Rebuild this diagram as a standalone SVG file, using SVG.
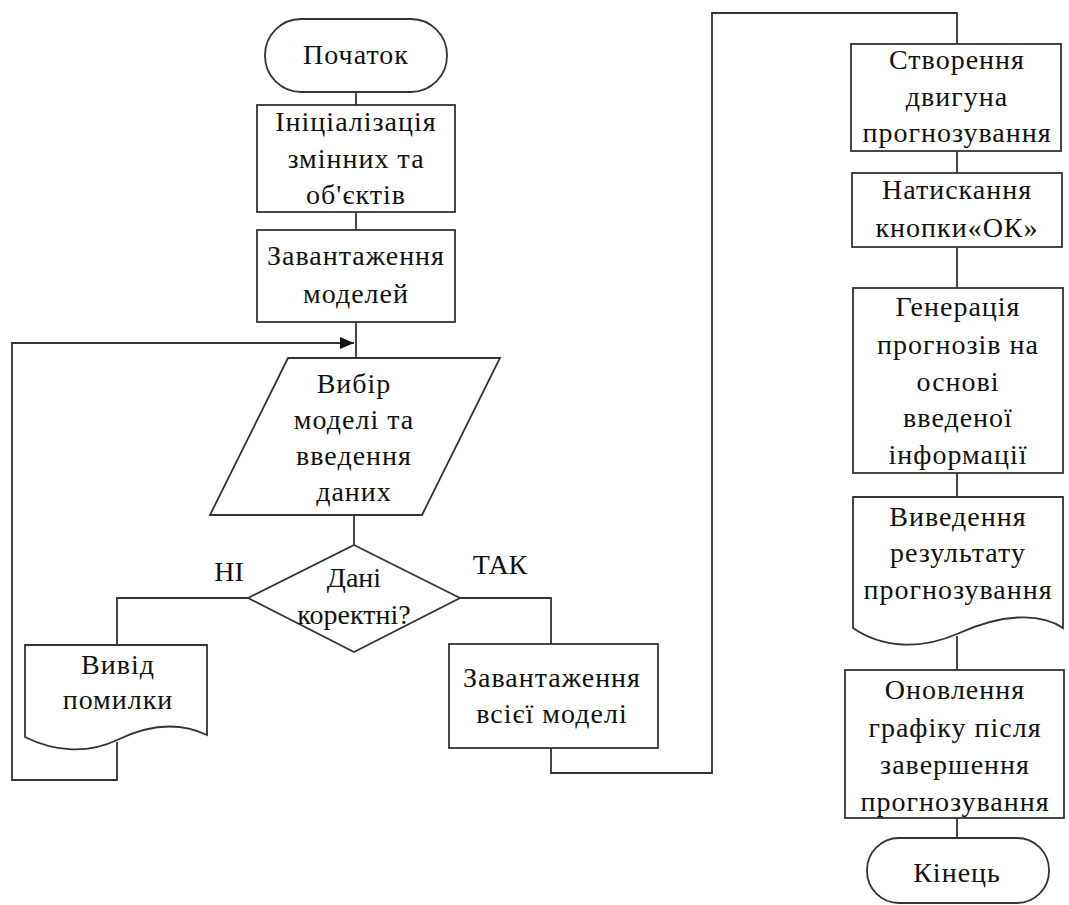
<svg xmlns="http://www.w3.org/2000/svg" width="1069" height="905" viewBox="0 0 1069 905">
  <style>
    .shape { fill: #ffffff; stroke: #333333; stroke-width: 1.8; }
    .wire { fill: none; stroke: #333333; stroke-width: 1.8; }
  </style>
  <defs>
    <marker id="arrow" viewBox="0 0 14 12" refX="14" refY="6" markerWidth="14" markerHeight="12" markerUnits="userSpaceOnUse" orient="auto">
      <path d="M0,0 L14,6 L0,12 Z" fill="#111111"/>
    </marker>
  </defs>

  <rect width="1069" height="905" fill="#ffffff"/>

  <!-- connectors -->
  <g id="connectors">
    <line class="wire" x1="356" y1="92" x2="356" y2="105"/>
    <line class="wire" x1="356" y1="212" x2="356" y2="230"/>
    <line class="wire" x1="356" y1="322" x2="356" y2="358"/>
    <line class="wire" x1="354" y1="515" x2="354" y2="545"/>
    <!-- НІ branch -->
    <polyline class="wire" points="248,598 117,598 117,645"/>
    <!-- loop back to input -->
    <polyline class="wire" points="117,742 117,780 12,780 12,343 354,343" marker-end="url(#arrow)"/>
    <!-- ТАК branch -->
    <polyline class="wire" points="460,598 551,598 551,644"/>
    <polyline class="wire" points="551,748 551,773 712,773 712,13 957,13 957,44"/>
    <line class="wire" x1="957" y1="151" x2="957" y2="173"/>
    <line class="wire" x1="957" y1="247" x2="957" y2="288"/>
    <line class="wire" x1="957" y1="473" x2="957" y2="497"/>
    <line class="wire" x1="957" y1="636" x2="957" y2="670"/>
    <line class="wire" x1="957" y1="818" x2="957" y2="838"/>
  </g>

  <g font-family="Liberation Serif, Times New Roman, serif" font-size="28" fill="#111111" text-anchor="middle" letter-spacing="1">
  <g id="start">
    <rect class="shape" x="265" y="19" width="182" height="73" rx="36" ry="36"/>
    <text x="356" y="64">Початок</text>
  </g>

  <g id="init">
    <rect class="shape" x="257" y="105" width="198" height="107"/>
    <text x="356" y="131">Ініціалізація</text>
    <text x="356" y="168">змінних та</text>
    <text x="356" y="204">об'єктів</text>
  </g>

  <g id="load-models">
    <rect class="shape" x="257" y="230" width="198" height="92"/>
    <text x="356" y="265">Завантаження</text>
    <text x="356" y="303">моделей</text>
  </g>

  <g id="input">
    <polygon class="shape" points="288,358 500,358 422,515 210,515"/>
    <text x="354" y="393">Вибір</text>
    <text x="354" y="429">моделі та</text>
    <text x="354" y="465">введення</text>
    <text x="354" y="501">даних</text>
  </g>

  <g id="check">
    <polygon class="shape" points="354,545 460,598 354,652 248,598"/>
    <text x="354" y="587" letter-spacing="0">Дані</text>
    <text x="354" y="624" letter-spacing="0">коректні?</text>
  </g>

  <g id="branch-labels" letter-spacing="0">
    <text x="229" y="581">НІ</text>
    <text x="500" y="574">ТАК</text>
  </g>

  <g id="error">
    <path class="shape" d="M25,645 H207 V735 C180,722 150,724 117,740 C88,754 55,752 25,737 Z"/>
    <text x="118" y="674">Вивід</text>
    <text x="118" y="709">помилки</text>
  </g>

  <g id="load-full">
    <rect class="shape" x="449" y="644" width="209" height="104"/>
    <text x="552" y="687">Завантаження</text>
    <text x="552" y="723">всієї моделі</text>
  </g>

  <g id="engine">
    <rect class="shape" x="851" y="44" width="210" height="107"/>
    <text x="957" y="69">Створення</text>
    <text x="957" y="106">двигуна</text>
    <text x="957" y="142">прогнозування</text>
  </g>

  <g id="press-ok">
    <rect class="shape" x="852" y="173" width="210" height="74"/>
    <text x="957" y="199">Натискання</text>
    <text x="957" y="237">кнопки«ОК»</text>
  </g>

  <g id="generate">
    <rect class="shape" x="853" y="288" width="210" height="185"/>
    <text x="958" y="316">Генерація</text>
    <text x="958" y="354">прогнозів на</text>
    <text x="958" y="391">основі</text>
    <text x="958" y="427">введеної</text>
    <text x="958" y="464">інформації</text>
  </g>

  <g id="result">
    <path class="shape" d="M853,497 H1063 V628 C1040,612 1000,614 957,634 C920,650 882,648 853,628 Z"/>
    <text x="958" y="526">Виведення</text>
    <text x="958" y="562">результату</text>
    <text x="958" y="599">прогнозування</text>
  </g>

  <g id="refresh">
    <rect class="shape" x="845" y="670" width="219" height="148"/>
    <text x="955" y="699">Оновлення</text>
    <text x="955" y="737">графіку після</text>
    <text x="955" y="774">завершення</text>
    <text x="955" y="811">прогнозування</text>
  </g>

  <g id="end">
    <rect class="shape" x="867" y="838" width="182" height="65" rx="32" ry="32"/>
    <text x="957" y="882">Кінець</text>
  </g>
  </g>
</svg>
